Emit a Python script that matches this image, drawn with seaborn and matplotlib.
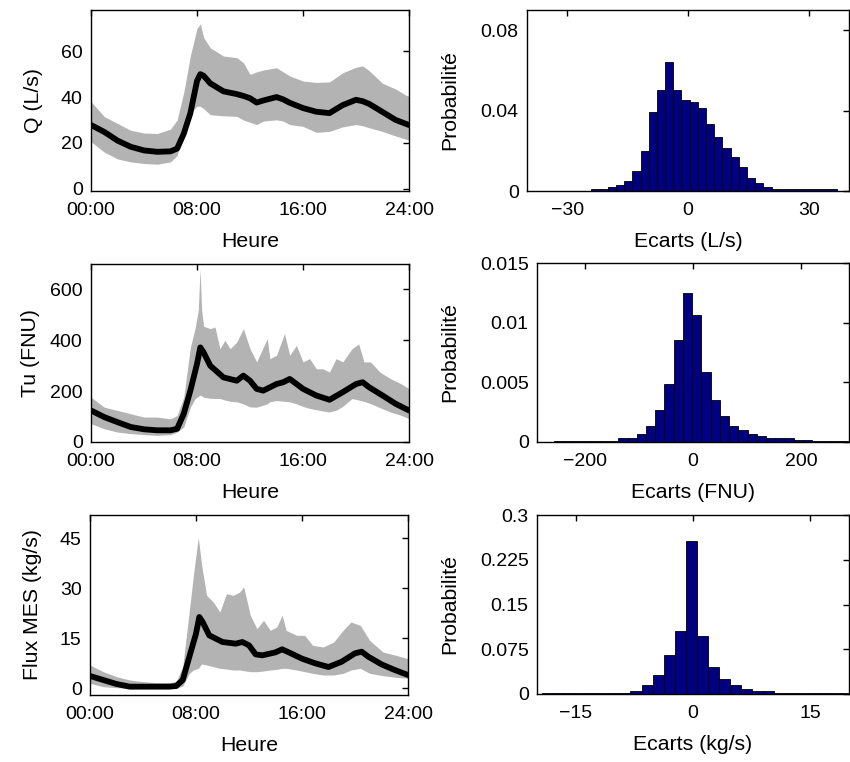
import numpy as np
import pandas as pd
import matplotlib
matplotlib.use("Agg")
import matplotlib.pyplot as plt
import seaborn as sns

# ---------------- data ----------------
hours = [0, 1, 2, 3, 4, 5, 6, 6.5, 7, 7.5, 8, 8.25, 8.5, 9, 10, 11, 11.5, 12,
         12.5, 13, 14, 14.5, 15, 16, 17, 18, 19, 20, 20.5, 21, 22, 23, 24]

# mean curves
q_mean = [27.8, 24.8, 21, 18.3, 16.7, 16.1, 16.3, 17.5, 24, 33, 47, 50, 49.3, 46, 42.5, 41.3, 40.5, 39.5,
          37.6, 38.5, 40, 39, 37.5, 35.2, 33.6, 33, 36.5, 38.8, 38.2, 37, 33.5, 30, 27.8]
tu_mean = [124, 98, 78, 59, 50, 46, 46, 52, 111, 202, 307, 372, 352, 300, 254, 241, 261, 241,
           209, 202, 228, 235, 248, 209, 183, 166, 196, 228, 235, 215, 183, 150, 124]
fx_mean = [3.7, 2.5, 1.3, 0.5, 0.5, 0.5, 0.5, 0.7, 2.5, 9.5, 16.4, 21.4, 19.9, 15.9, 13.9, 13.4, 13.9, 12.9,
           10.2, 9.9, 10.8, 11.7, 10.8, 8.9, 7.5, 6.4, 8, 10.5, 11, 9.5, 7.2, 5.5, 4.0]

# Q envelope (same time grid as the mean)
q_upper = [38, 31.5, 28.5, 25.5, 24.3, 24.1, 26, 30, 42, 58, 70, 71.9, 66, 61.5, 57.9, 57.2, 55, 49.9,
           51, 51.8, 52.8, 51, 49.2, 47, 46.4, 46.6, 50.6, 53, 53.6, 51.5, 46, 43.5, 40]
q_lower = [20.5, 16, 13, 11.7, 11, 10.7, 11.7, 14.5, 25, 33, 36, 36, 35, 32.3, 31.8, 31.6, 30, 29,
           28, 29.5, 30.1, 29.5, 28, 27.2, 24.6, 25, 27, 28, 27.5, 26.6, 25, 23, 21.2]

# Tu envelope
tu_band_h = [0, 1, 2, 3, 4, 5, 6, 6.5, 7, 7.5, 7.85, 8.1, 8.23, 8.35, 8.5, 9, 9.36, 9.73, 10.1, 10.5,
             11, 11.5, 12, 12.5, 13.3, 13.5, 14, 14.6, 15, 15.5, 16, 16.5, 17, 17.5, 18, 18.5,
             19, 19.7, 20.2, 20.6, 21.1, 21.8, 22.6, 23.4, 24]
tu_upper = [176, 137, 124, 111, 98, 98, 91, 104, 176, 372, 446, 520, 681, 520, 455, 446, 452, 367, 400, 367,
            393, 446, 367, 315, 406, 328, 341, 426, 341, 380, 315, 328, 288, 288, 275, 328,
            315, 367, 386, 315, 315, 275, 249, 229, 210]
tu_lower = [72, 52, 39, 33, 29, 26, 29, 39, 59, 137, 170, 180, 184, 182, 176, 172, 171, 171, 165, 160,
            158, 150, 138, 137, 150, 158, 163, 160, 158, 150, 140, 132, 127, 122, 118, 125,
            140, 171, 165, 160, 151, 135, 118, 105, 92]

# Flux MES envelope
fx_band_h = [0, 1, 2, 3, 4, 5, 6, 6.5, 7, 7.5, 7.8, 8.17, 8.43, 8.8, 9.3, 9.8, 10.3, 10.8, 11.3, 11.6,
             12.1, 12.6, 13.1, 13.6, 14.1, 14.5, 14.8, 15.6, 16.2, 16.8, 17.6, 18.4, 19.1, 19.7, 20.4,
             21.1, 22.1, 23.1, 24]
fx_upper = [7, 5, 3.5, 2.5, 2, 1.7, 1.7, 2, 6.5, 23.4, 33.8, 45.3, 36.8, 27.9, 25.9, 22.9, 28.4, 27.9, 28.9, 30.4,
            21.9, 17.9, 20.4, 17.4, 18.4, 21.9, 17.4, 15.9, 15.9, 12.9, 12.4, 13.9, 17.4, 19.9, 18.9,
            14.4, 10.9, 9.9, 8.9]
fx_lower = [1.5, 0.5, 0.2, 0, 0, 0, 0, 0, 0.7, 4.5, 5.5, 6.0, 7.3, 7.0, 6.5, 6.0, 5.8, 5.5, 5.5, 5.3,
            5.0, 5.0, 5.2, 5.5, 5.7, 6.0, 6.0, 5.5, 5.0, 4.5, 4.0, 4.0, 4.5, 5.5, 6.0,
            4.5, 3.8, 3.3, 3.0]

# histograms: first bin edge, bin width, probabilities
q_hist_start, q_hist_width = -24.0, 2.035
q_hist = [0.001, 0.001, 0.002, 0.003, 0.005, 0.0098, 0.0197, 0.0395, 0.0503, 0.0639,
          0.0503, 0.0454, 0.0444, 0.0413, 0.0334, 0.0267, 0.0216, 0.0169, 0.0118, 0.0067,
          0.0039, 0.002, 0.001, 0.001, 0.001, 0.001, 0.001, 0.001, 0.001, 0.001]

tu_hist_start, tu_hist_width = -257.0, 17.03
tu_hist = [0.0001, 0.0001, 0.0001, 0.0001, 0.0001, 0.0001, 0.0001, 0.0003, 0.0003, 0.00067,
           0.00134, 0.00268, 0.00482, 0.00853, 0.01252, 0.01068, 0.00583, 0.00349, 0.00215, 0.00131,
           0.00098, 0.00067, 0.00047, 0.0003, 0.0003, 0.0003, 0.00014, 0.00014, 0.0001, 0.0001,
           0.0001, 0.0001]

fx_hist_start, fx_hist_width = -19.38, 1.42
fx_hist = [0.001, 0.001, 0.001, 0.001, 0.001, 0.001, 0.001, 0.001, 0.0056, 0.0156,
           0.0323, 0.0658, 0.106, 0.2566, 0.0965, 0.0457, 0.0257, 0.0156, 0.0089, 0.0056,
           0.0056, 0.002, 0.002, 0.002, 0.002, 0.002, 0.002, 0.002]

time_ticks = [0, 8, 16, 24]
time_labels = ["00:00", "08:00", "16:00", "24:00"]

# ---------------- style ----------------
sns.set_style("white")
plt.rcParams["font.family"] = ["Liberation Sans", "DejaVu Sans"]
plt.rcParams["text.color"] = "black"
plt.rcParams["axes.labelcolor"] = "black"
plt.rcParams["xtick.color"] = "black"
plt.rcParams["ytick.color"] = "black"

TICK_FS = 14
LABEL_FS = 15.3

W, H = 850, 762
fig = plt.figure(figsize=(W / 100, H / 100), dpi=100)


def ax_px(left, right, top, bottom):
    ax = fig.add_axes([left / W, 1 - bottom / H, (right - left) / W, (bottom - top) / H])
    ax._px = (left, right, top, bottom)
    return ax


def style(ax, ylabel_x):
    ax.tick_params(direction="in", top=True, right=True, length=4, width=1,
                   labelsize=TICK_FS, color="black", labelcolor="black")
    ax.tick_params(axis="x", pad=8)
    ax.tick_params(axis="y", pad=6)
    for s in ax.spines.values():
        s.set_visible(True)
        s.set_color("black")
        s.set_linewidth(1.0)
    left, right, top, bottom = ax._px
    ax.yaxis.set_label_coords((ylabel_x - left) / (right - left), 0.5)


def ts_panel(ax, mean, band_h, lo, hi, ylim, yticks, ylabel, ylabel_x):
    df = pd.DataFrame({"h": hours, "m": mean})
    ax.fill_between(band_h, lo, hi, color="#b3b3b3", linewidth=0)
    sns.lineplot(data=df, x="h", y="m", ax=ax, color="black", linewidth=4.2)
    ax.set_xlim(0, 24)
    ax.set_ylim(*ylim)
    ax.set_xticks(time_ticks)
    ax.set_xticklabels(time_labels)
    ax.set_yticks(yticks)
    ax.set_xlabel("Heure", fontsize=LABEL_FS, labelpad=9)
    ax.set_ylabel(ylabel, fontsize=LABEL_FS)
    style(ax, ylabel_x)


def hist_panel(ax, start, width, probs, xlim, xticks, ylim, yticks, ylabels, xlabel):
    n = len(probs)
    edges = [start + i * width for i in range(n + 1)]
    centers = [start + (i + 0.5) * width for i in range(n)]
    sns.histplot(x=centers, weights=probs, bins=edges, stat="count", ax=ax,
                 color="#000080", edgecolor="black", linewidth=0.6, alpha=1.0)
    ax.set_xlim(*xlim)
    ax.set_ylim(*ylim)
    ax.set_xticks(xticks)
    ax.set_yticks(yticks)
    ax.set_yticklabels(ylabels)
    ax.set_xlabel(xlabel, fontsize=LABEL_FS, labelpad=9)
    ax.set_ylabel("Probabilité", fontsize=LABEL_FS)
    style(ax, 459)


ax1 = ax_px(91, 409, 10, 191)
ts_panel(ax1, q_mean, hours, q_lower, q_upper, (-1, 78), [0, 20, 40, 60], "Q (L/s)", 43)

ax3 = ax_px(91, 409, 264, 442)
ts_panel(ax3, tu_mean, tu_band_h, tu_lower, tu_upper, (0, 700), [0, 200, 400, 600], "Tu (FNU)", 40)

ax5 = ax_px(90, 408, 515, 695)
ts_panel(ax5, fx_mean, fx_band_h, fx_lower, fx_upper, (-2, 52), [0, 15, 30, 45], "Flux MES (kg/s)", 42)

ax2 = ax_px(527, 849, 10, 191)
hist_panel(ax2, q_hist_start, q_hist_width, q_hist, (-40, 40), [-30, 0, 30],
           (0, 0.09), [0, 0.04, 0.08], ["0", "0.04", "0.08"], "Ecarts (L/s)")

ax4 = ax_px(537, 849, 263, 442)
hist_panel(ax4, tu_hist_start, tu_hist_width, tu_hist, (-288, 288), [-200, 0, 200],
           (0, 0.015), [0, 0.005, 0.01, 0.015], ["0", "0.005", "0.01", "0.015"], "Ecarts (FNU)")

ax6 = ax_px(537, 849, 515, 694)
hist_panel(ax6, fx_hist_start, fx_hist_width, fx_hist, (-20, 20), [-15, 0, 15],
           (0, 0.3), [0, 0.075, 0.15, 0.225, 0.3], ["0", "0.075", "0.15", "0.225", "0.3"],
           "Ecarts (kg/s)")

fig.savefig("out.png", dpi=100, facecolor="white")
